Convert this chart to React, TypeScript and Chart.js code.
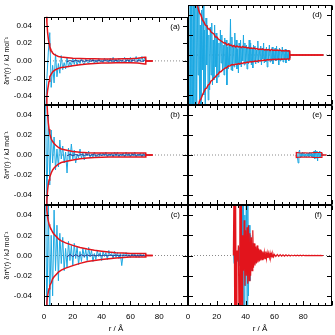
import React, { useEffect, useRef } from 'react';
import { Chart, registerables } from 'chart.js';

Chart.register(...registerables);

// ---------- tick labels / ticks ----------
const X_TICKS = [0, 20, 40, 60, 80];
const X_MAJOR = [0, 20, 40, 60, 80, 100];
const X_MINOR = [5, 10, 15, 25, 30, 35, 45, 50, 55, 65, 70, 75, 85, 90, 95];
const Y_TICKS = [-40, -20, 0, 20, 40]; // in 10^-3 kJ/mol

// ---------- data (values in 10^-3 kJ mol^-1) ----------
// blue fluctuation series of panels a–c, r = 1, 2, ... 71 Å
const BLUE_R_START = 1;
const BLUE_R_STEP = 1;
const blueA = [
  -70, -20, 10, 32, -30, -5, -25, 8, -18, -3,
  -14, 6, -10, -2, -9, 4, -7, -1, -6, 3,
  -4, 2, -5, 1, -3, 3, -2, -4, 2, -1,
  -3, 3, -1, 2, -3, 1, -2, 3, -1, 1,
  -2, 3, 0, 2, -2, 3, -1, 4, -1, 2,
  -2, 3, 1, -1, 2, 4, -1, 3, -2, 4,
  -1, 3, 1, 5, -1, 3, 0, 5, -1, 4, 0,
];
const blueB = [
  60, -55, 40, -30, 25, -8, 18, -15, 6, -12,
  15, -4, 9, -8, 3, -18, 7, -5, 11, -4,
  5, -8, 1, -3, 6, -3, 2, -5, 3, -1,
  4, -3, 1, -2, 3, -2, 0, -3, 2, -1,
  2, -1, 3, -2, 1, -1, 2, -2, 3, -1,
  3, -2, 1, -1, 2, -2, 3, -1, 2, -2,
  2, -1, 3, -2, 1, -1, 2, -2, 2, -1, 1,
];
const blueC = [
  80, -70, 55, -50, 20, -40, 45, -15, 30, -25,
  22, -8, 18, -15, 7, -12, 14, -5, 10, -10,
  12, -3, 9, -9, 4, -6, 7, -2, 6, -5,
  8, -1, 5, -6, 2, -4, 5, -1, 3, -5,
  4, -1, 3, -4, 5, 0, 2, -3, 4, -2,
  3, -3, 2, -10, 2, 0, 3, -2, 1, -2,
  2, -1, 2, -2, 1, -2, 2, -1, 1, -1, 1,
];
// panel (d): r = 1, 1.5, ... 71 Å
const BLUE_D_START = 1;
const BLUE_D_STEP = 0.5;
const blueD = [
  -80, 80, -70, 80, -80, 60, -80, 80, -60, 80,
  -70, 50, -20, 80, -45, 30, -60, 45, -15, 55,
  -40, 25, -50, 37, -10, 30, -45, 20, -35, 28,
  -20, 32, -30, 15, -25, 30, -12, 22, -28, 18,
  -22, 12, -18, 25, -8, 20, -16, 10, -20, 17,
  -12, 15, -30, 8, -14, 12, -10, 36, -15, 18,
  -16, 10, -12, 22, -8, 15, -14, 6, -18, 12,
  -10, 15, -12, 8, -6, 20, -10, 12, -8, 10,
  -14, 8, -9, 15, -6, 12, -10, 7, -13, 10,
  -6, 9, -9, 5, -7, 14, -8, 6, -5, 9,
  -10, 7, -4, 12, -8, 5, -7, 8, -12, 6,
  -5, 10, -7, 4, -6, 8, -9, 5, -4, 7,
  -6, 9, -5, 4, -10, 7, -6, 5, -4, 8,
  -7, 4, -5, 6, -8, 5, -4, 5, -6, 4,
  -3,
];
// panel (e): r = 75, 75.5, ... 93 Å
const BLUE_E_START = 75;
const BLUE_E_STEP = 0.5;
const blueE = [
  -1, 2, -2, -8, 3, 5, -3, 2, -2, 3,
  -1, 2, -2, 1, -2, 2, -1, 2, -2, 3,
  -1, 2, -2, 1, -3, 4, -4, 5, -3, 4,
  -6, 3, -2, 4, -3, 2, -1,
];
// panel (f): r = 31.5, 32, ... 55 Å
const BLUE_F_START = 31.5;
const BLUE_F_STEP = 0.5;
const blueF = [
  5, -8, 6, -5, 4, -6, 3, -4, 8, -10,
  20, -40, 80, -80, 80, -60, 40, -30, 80, -50,
  70, -40, 30, -25, 20, -15, 12, -10, 8, -8,
  6, -5, 5, -4, 4, -3, 3, -3, 2, -2,
  2, -2, 1.5, -1.5, 1, -1, 1, 0,
];
// red series of panel (f): r = 31.5 ... 60 step 0.5, then 61 ... 94 step 1
const RED_F_START = 31.5;
const RED_F_STEP = 0.5;
const redF = [
  0, 80, -80, 80, -70, 5, -5, 10, -80, 80,
  -80, 80, -60, 20, -15, 35, -30, 25, -20, 28,
  -28, 30, -25, 22, -20, 18, -15, 25, -12, 12,
  -10, 9, -8, 10, -7, 7, -6, 6, -5, 5,
  -4, 4, -4, 3, -3, 4, -3, 2.5, -2.5, 2,
  -2, 2.5, -2, 1.5, -1.5, 1.5, -1.2, 1,
];
const RED_F_TAIL_START = 61;
const RED_F_TAIL_STEP = 1;
const redFTail = [
  -1, 1, -0.8, 0.8, -0.7, 0.7, -0.6, 0.6, -0.5, 0.5,
  -0.5, 0.4, -0.4, 0.4, -0.3, 0.3, -0.3, 0.3, -0.3, 0.3,
  -0.2, 0.2, -0.2, 0.2, -0.2, 0.2, -0.2, 0.2, -0.1, 0.1,
  -0.1, 0.1, -0.1, 0,
];

// red error envelopes, panels a–c
const ENV_R_ABC = [1, 1.5, 2, 2.5, 3, 3.5, 4, 5, 6, 7, 8, 10, 12, 15, 20, 25, 30, 35, 40, 45, 50, 55, 60, 65, 70, 70.6, 70.7, 75.5];
const upperA = [120, 70, 44, 32, 25, 20, 16, 12, 9, 7.5, 6.5, 5, 4.3, 3.8, 3, 2.7, 2.4, 2.3, 2.2, 2.2, 2.2, 2.3, 2.5, 3, 4, 4, 0, 0];
const lowerA = [-150, -70, -41, -33, -28, -23, -18, -15, -12.5, -11, -10, -8.5, -7.5, -7, -5.5, -4.5, -3.5, -3, -2.5, -2.3, -2.2, -2.1, -2, -2.5, -3.5, -3.5, 0, 0];
const upperB = [150, 90, 55, 40, 32, 26, 21, 16, 13.5, 11.5, 10, 7.5, 6, 5, 3.5, 2.8, 2.3, 2.1, 2, 2, 2, 2, 2, 2, 2, 2, 0, 0];
const lowerB = [-150, -80, -45, -35, -29, -25, -22, -18, -15, -13, -11.5, -9, -7.5, -6.5, -5, -3.8, -3, -2.5, -2.2, -2.1, -2, -2, -2, -2, -2, -2, 0, 0];
const upperC = [150, 80, 45, 38, 34, 31, 29, 26, 23, 21, 19.5, 16.5, 14.5, 12.5, 10, 8, 6.5, 5.2, 4.3, 3.4, 2.8, 2.4, 2.1, 2, 2, 2, 0, 0];
const lowerC = [-150, -80, -46, -40, -36, -33, -30, -27, -23, -21, -19.5, -16.5, -14.5, -12.5, -10, -7.8, -6, -5, -4, -3.2, -2.5, -2, -1.6, -1.4, -1.4, -1.4, 0, 0];

// panel (d) envelope: r = 2, 3, ... 70 Å, then closing points
const ENV_D_START = 2;
const ENV_D_STEP = 1;
const upperD = [
  150, 110, 80, 62, 52, 47, 42, 40, 35, 33,
  30, 29, 26, 26, 23, 22, 21, 18, 18, 16,
  15, 14, 13, 12, 12, 10, 11, 9.5, 10, 8.5,
  9.5, 8, 9, 8, 8.5, 7.5, 8.5, 7.5, 8, 7,
  7.5, 6.5, 7, 6.5, 7, 6, 6.5, 5.5, 6, 5.5,
  6, 5, 5.5, 5, 5.5, 4.5, 5.5, 4.5, 5, 4.5,
  5, 4.5, 5, 4, 4.5, 4, 4.5, 4, 4.2,
];
const lowerD = [
  -150, -110, -80, -62, -56, -52, -46, -44, -40, -37,
  -34, -33, -30, -29, -26, -25, -23, -22, -20, -19,
  -17, -16.5, -15, -14, -13, -12.5, -11, -11, -10, -9.5,
  -10, -9, -9.5, -8.5, -9, -8, -8.5, -7.5, -8, -7,
  -7.5, -6.5, -7, -6.5, -6.5, -6, -6.5, -5.5, -6, -5.5,
  -5.5, -5, -5.5, -4.5, -5, -4.5, -4.8, -4.3, -4.5, -4.2,
  -4.5, -4, -4.4, -4, -4.3, -3.9, -4.2, -3.9, -4,
];
const ENV_D_END_R = [70.6, 70.7, 94];
const upperDEnd = [4, 0, 0];
const lowerDEnd = [-4, 0, 0];

const ENV_R_E = [75, 75.2, 78, 81, 84, 87, 90, 92.8, 93, 96];
const upperE = [0, 2.5, 2, 2.2, 2, 2.3, 2.5, 2.5, 0, 0];
const lowerE = [0, -2.5, -2, -2.2, -2, -2.3, -2.5, -2.5, 0, 0];

// dark mean line near zero (panels a–c), r = 16, 18, ... 70 Å
const NAVY_R_START = 16;
const NAVY_R_STEP = 2;
const navyA = [-1, 0.5, -0.8, 0.6, -0.5, 0.4, -0.6, 0.5, -0.4, 0.6, -0.3, 0.5, -0.5, 0.4, -0.3, 0.6, -0.4, 0.5, -0.3, 0.4, -0.5, 0.6, -0.3, 0.5, -0.4, 0.3, -0.5, 0.4];
const navyB = [-0.8, 0.6, -0.6, 0.5, -0.5, 0.5, -0.4, 0.5, -0.4, 0.4, -0.3, 0.5, -0.4, 0.4, -0.3, 0.4, -0.4, 0.3, -0.3, 0.4, -0.4, 0.3, -0.3, 0.4, -0.3, 0.3, -0.3, 0.3];
const navyC = [-1.5, 1, -1, 0.8, -0.8, 0.7, -0.7, 0.6, -0.6, 0.5, -0.5, 0.5, -0.4, 0.4, -0.4, 0.4, -0.3, 0.4, -0.3, 0.3, -0.3, 0.3, -0.3, 0.3, -0.2, 0.3, -0.2, 0.2];

const ZERO_R = [0, 100];
const ZERO_V = [0, 0];

// ---------- styles ----------
const FONT = "'Liberation Sans Narrow', 'Liberation Sans', Arial, sans-serif";
const BLUE = '#1ca8e2';
const RED = '#e2141c';
const NAVY = '#2e3a8f';
const GREY = '#8a8a8a';

type P = { x: number; y: number };
const pts = (xs: number[], ys: number[]): P[] => ys.map((y, i) => ({ x: xs[i], y }));
const grid = (start: number, step: number, ys: number[]): P[] => ys.map((y, i) => ({ x: start + i * step, y }));

type DS = { data: P[]; color: string; width: number; dash?: number[] };

const line = (data: P[], color: string, width: number, dash?: number[]): DS => ({ data, color, width, dash });

const zero = () => line(pts(ZERO_R, ZERO_V), GREY, 1, [1, 2]);

type PanelCfg = { label: string; col: 0 | 1; row: 0 | 1 | 2; series: DS[] };

const PANELS: PanelCfg[] = [
  {
    label: '(a)', col: 0, row: 0,
    series: [
      line(pts(ENV_R_ABC, upperA), RED, 1.5),
      line(pts(ENV_R_ABC, lowerA), RED, 1.5),
      line(grid(NAVY_R_START, NAVY_R_STEP, navyA), NAVY, 1),
      line(grid(BLUE_R_START, BLUE_R_STEP, blueA), BLUE, 1),
      zero(),
    ],
  },
  {
    label: '(b)', col: 0, row: 1,
    series: [
      line(pts(ENV_R_ABC, upperB), RED, 1.5),
      line(pts(ENV_R_ABC, lowerB), RED, 1.5),
      line(grid(NAVY_R_START, NAVY_R_STEP, navyB), NAVY, 1),
      line(grid(BLUE_R_START, BLUE_R_STEP, blueB), BLUE, 1),
      zero(),
    ],
  },
  {
    label: '(c)', col: 0, row: 2,
    series: [
      line(pts(ENV_R_ABC, upperC), RED, 1.5),
      line(pts(ENV_R_ABC, lowerC), RED, 1.5),
      line(grid(NAVY_R_START, NAVY_R_STEP, navyC), NAVY, 1),
      line(grid(BLUE_R_START, BLUE_R_STEP, blueC), BLUE, 1),
      zero(),
    ],
  },
  {
    label: '(d)', col: 1, row: 0,
    series: [
      line(grid(ENV_D_START, ENV_D_STEP, upperD).concat(pts(ENV_D_END_R, upperDEnd)), RED, 1.5),
      line(grid(ENV_D_START, ENV_D_STEP, lowerD).concat(pts(ENV_D_END_R, lowerDEnd)), RED, 1.5),
      line(grid(BLUE_D_START, BLUE_D_STEP, blueD), BLUE, 1),
      zero(),
    ],
  },
  {
    label: '(e)', col: 1, row: 1,
    series: [
      line(pts(ENV_R_E, upperE), RED, 1.2),
      line(pts(ENV_R_E, lowerE), RED, 1.2),
      line(grid(BLUE_E_START, BLUE_E_STEP, blueE), BLUE, 1),
      zero(),
    ],
  },
  {
    label: '(f)', col: 1, row: 2,
    series: [
      line(grid(RED_F_START, RED_F_STEP, redF).concat(grid(RED_F_TAIL_START, RED_F_TAIL_STEP, redFTail)), RED, 1.2),
      line(grid(BLUE_F_START, BLUE_F_STEP, blueF), BLUE, 1),
      zero(),
    ],
  },
];

// ---------- layout ----------
const W = 335;
const H = 335;
const COL_L = [44, 188];
const COL_R = [188, 332];
const ROW_T = [5, 105, 205];
const ROW_B = [105, 205, 306];
const Y_AXIS_W = 44;
const X_AXIS_H = 29;

const frameTicks = {
  id: 'frameTicks',
  afterDatasetsDraw(chart: any, _args: any, opts: any) {
    const { ctx, chartArea: a, scales } = chart;
    const x = scales.x;
    const y = scales.y;
    const L = Math.round(a.left) + 0.5;
    const R = Math.round(a.right) - 0.5;
    const T = Math.round(a.top) + 0.5;
    const B = Math.round(a.bottom) - 0.5;
    ctx.save();
    ctx.strokeStyle = '#000';
    ctx.lineWidth = 1;
    ctx.beginPath();
    const seg = (x1: number, y1: number, x2: number, y2: number) => {
      ctx.moveTo(x1, y1);
      ctx.lineTo(x2, y2);
    };
    for (const v of X_MAJOR) {
      const px = Math.round(x.getPixelForValue(v)) + 0.5;
      seg(px, B, px, B - 4.5);
      seg(px, T, px, T + 4.5);
    }
    for (const v of X_MINOR) {
      const px = Math.round(x.getPixelForValue(v)) + 0.5;
      seg(px, B, px, B - 2.5);
      seg(px, T, px, T + 2.5);
    }
    for (const v of Y_TICKS) {
      const py = Math.round(y.getPixelForValue(v)) + 0.5;
      seg(L, py, L + 4.5, py);
      seg(R, py, R - 4.5, py);
    }
    ctx.stroke();
    ctx.strokeRect(L, T, R - L, B - T);
    ctx.fillStyle = '#000';
    ctx.font = `8px ${FONT}`;
    ctx.textAlign = 'right';
    ctx.textBaseline = 'middle';
    ctx.fillText(opts.label, a.right - opts.labelOffset, a.top + 10);
    ctx.restore();
  },
};

function buildConfig(p: PanelCfg): any {
  const showY = p.col === 0;
  const showX = p.row === 2;
  const left = COL_L[p.col];
  const right = COL_R[p.col];
  const top = ROW_T[p.row];
  const bottom = ROW_B[p.row];
  const padding = {
    left: showY ? left - Y_AXIS_W : left,
    right: W - right,
    top,
    bottom: showX ? H - bottom - X_AXIS_H : H - bottom,
  };
  const tickFont = { family: FONT, size: 8 };
  return {
    type: 'line',
    data: {
      datasets: p.series.map((s) => ({
        data: s.data,
        borderColor: s.color,
        borderWidth: s.width,
        borderDash: s.dash || [],
        pointRadius: 0,
        fill: false,
        tension: 0,
      })),
    },
    options: {
      animation: false,
      responsive: false,
      devicePixelRatio: 1,
      events: [],
      layout: { padding },
      plugins: {
        legend: { display: false },
        tooltip: { enabled: false },
        frameTicks: { label: p.label, labelOffset: p.col === 0 ? 8 : 10 },
      },
      scales: {
        x: {
          type: 'linear',
          min: 0,
          max: 100,
          display: showX,
          afterBuildTicks: (s: any) => {
            s.ticks = X_TICKS.map((v) => ({ value: v }));
          },
          afterFit: (s: any) => {
            s.height = showX ? X_AXIS_H : 0;
          },
          grid: { display: false, drawTicks: false },
          border: { display: false },
          ticks: { autoSkip: false, maxRotation: 0, padding: 6, color: '#000', font: tickFont },
          title: { display: true, text: 'r / Å', color: '#000', font: tickFont, padding: { top: 0, bottom: 1 } },
        },
        y: {
          type: 'linear',
          min: -50,
          max: 50,
          display: showY,
          afterBuildTicks: (s: any) => {
            s.ticks = Y_TICKS.map((v) => ({ value: v }));
          },
          afterFit: (s: any) => {
            s.width = showY ? Y_AXIS_W : 0;
          },
          grid: { display: false, drawTicks: false },
          border: { display: false },
          ticks: {
            padding: 12,
            color: '#000',
            font: tickFont,
            callback: (v: number) => (v / 1000).toFixed(2),
          },
          title: {
            display: true,
            text: 'δn*(r) / kJ mol⁻¹',
            color: '#000',
            font: { family: FONT, size: 7 },
            padding: { top: 3, bottom: 0 },
          },
        },
      },
    },
    plugins: [frameTicks],
  };
}

function Panel({ cfg }: { cfg: PanelCfg }) {
  const ref = useRef<HTMLCanvasElement>(null);
  useEffect(() => {
    if (!ref.current) return;
    const chart = new Chart(ref.current, buildConfig(cfg));
    return () => chart.destroy();
  }, [cfg]);
  return <canvas ref={ref} width={W} height={H} style={{ position: 'absolute', left: 0, top: 0 }} />;
}

export default function App() {
  return (
    <div style={{ position: 'fixed', left: 0, top: 0, width: W, height: H, background: '#fff' }}>
      {PANELS.map((p) => (
        <Panel key={p.label} cfg={p} />
      ))}
    </div>
  );
}
